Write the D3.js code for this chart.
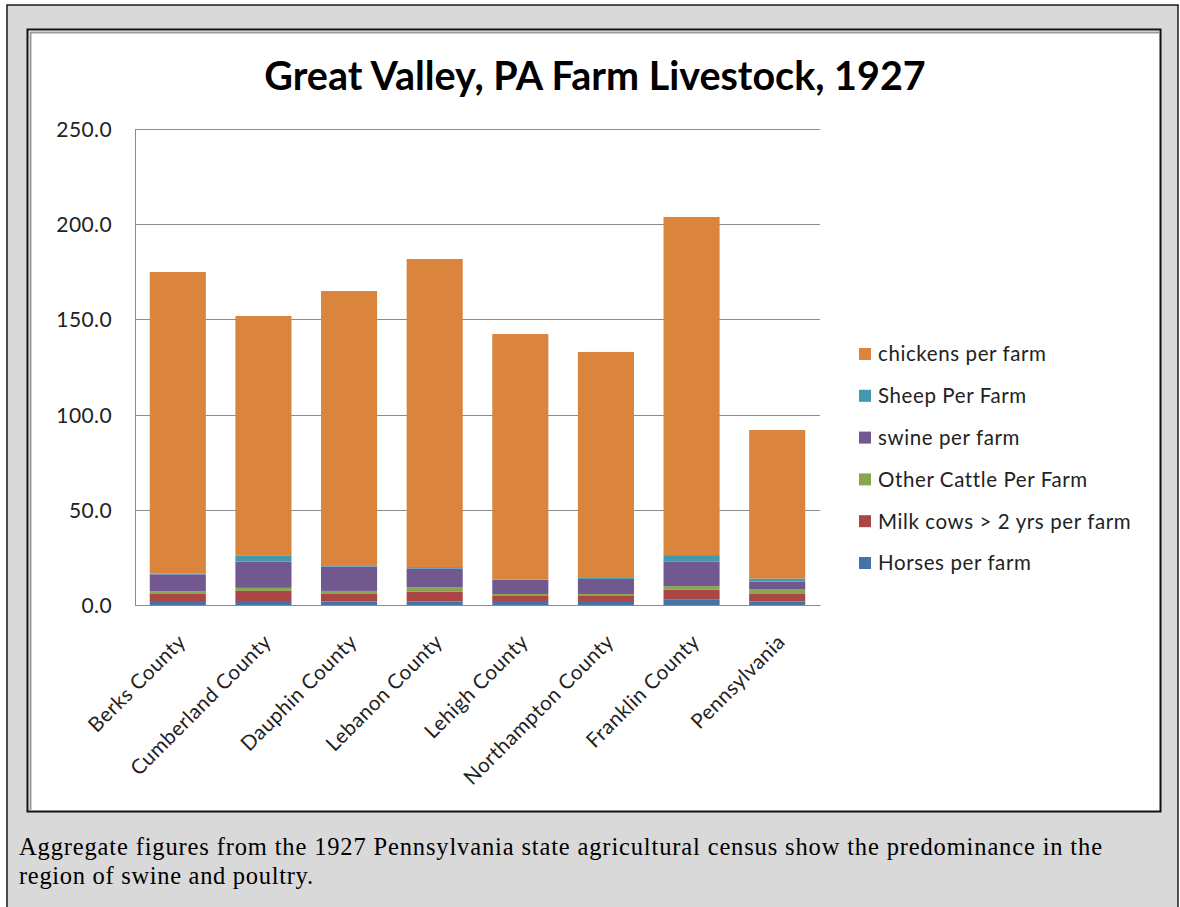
<!DOCTYPE html>
<html>
<head>
<meta charset="utf-8">
<script src="https://cdn.jsdelivr.net/npm/d3@7"></script>
<style>
  html, body { margin: 0; padding: 0; background: #ffffff; }
  svg { display: block; }
</style>
</head>
<body>
<svg id="chart" width="1180" height="907"></svg>
<script>
const categories = ["Berks County", "Cumberland County", "Dauphin County", "Lebanon County",
  "Lehigh County", "Northampton County", "Franklin County", "Pennsylvania"];
const horses      = [1.6, 2.1, 1.8, 1.8, 2.1, 1.6, 3.0, 1.8];
const milkCows    = [4.2, 5.3, 4.0, 5.1, 3.0, 3.5, 5.1, 4.0];
const otherCattle = [1.4, 1.6, 1.6, 2.3, 0.7, 0.7, 1.8, 2.3];
const swine       = [8.9, 13.8, 12.8, 10.0, 7.4, 7.9, 12.8, 4.2];
const sheep       = [0.5, 3.3, 0.7, 0.7, 0.2, 0.9, 3.5, 1.6];
const chickens    = [158.3, 125.7, 144.0, 161.8, 128.9, 118.3, 177.6, 78.0];
const seriesNames = ["Horses per farm", "Milk cows > 2 yrs per farm", "Other Cattle Per Farm",
  "swine per farm", "Sheep Per Farm", "chickens per farm"];
const seriesColors = ["#4572A7", "#AA4643", "#89A54E", "#71588F", "#4198AF", "#DB843D"];
const yTicks = [0, 50, 100, 150, 200, 250];
const titleText = "Great Valley, PA Farm Livestock, 1927";
const captionLines = [
  "Aggregate figures from the 1927 Pennsylvania state agricultural census show the predominance in the",
  "region of swine and poultry."
];

const seriesValues = [horses, milkCows, otherCattle, swine, sheep, chickens];
const keys = seriesNames;
const rows = categories.map((c, i) => {
  const r = { category: c };
  keys.forEach((k, j) => r[k] = seriesValues[j][i]);
  return r;
});

const svg = d3.select("#chart");
const font = "Lato, 'Open Sans', sans-serif";

// outer grey panel
svg.append("rect").attr("x", 7).attr("y", 5).attr("width", 1171).attr("height", 910)
  .attr("fill", "#d9d9d9").attr("stroke", "#1a1a1a").attr("stroke-width", 1.5);

// chart area (white with frame)
svg.append("rect").attr("x", 27.5).attr("y", 29.5).attr("width", 1133).attr("height", 782)
  .attr("fill", "#ffffff").attr("stroke", "#111").attr("stroke-width", 2);
svg.append("path").attr("d", "M30.5,811 V32.5 H1159")
  .attr("fill", "none").attr("stroke", "#9a9a9a").attr("stroke-width", 2);

const plot = { left: 135, right: 820, top: 129, bottom: 605 };

const x = d3.scaleBand().domain(categories).range([plot.left, plot.right])
  .paddingInner(0.345).paddingOuter(0.1725);
const y = d3.scaleLinear().domain([0, 250]).range([plot.bottom, plot.top]);

// gridlines
svg.append("g").selectAll("line").data(yTicks).join("line")
  .attr("x1", plot.left).attr("x2", plot.right)
  .attr("y1", d => Math.round(y(d)) + 0.5).attr("y2", d => Math.round(y(d)) + 0.5)
  .attr("stroke", "#8c8c8c").attr("stroke-width", 1);

// y axis
const yAxis = svg.append("g").attr("transform", `translate(${plot.left},0)`)
  .call(d3.axisLeft(y).tickValues(yTicks).tickFormat(d3.format(".1f")).tickSize(0).tickPadding(23));
yAxis.select(".domain").attr("stroke", "#8c8c8c");
yAxis.selectAll("text").attr("font-family", font).attr("font-size", 21).attr("fill", "#222")
  .attr("letter-spacing", "0.4px").attr("dy", "0.36em");

// stacked bars
const stack = d3.stack().keys(keys);
const stacked = stack(rows);
svg.append("g").selectAll("g").data(stacked).join("g")
  .attr("fill", (d, i) => seriesColors[i])
  .selectAll("rect").data(d => d).join("rect")
  .attr("x", d => x(d.data.category))
  .attr("width", x.bandwidth())
  .attr("y", d => y(d[1]))
  .attr("height", d => y(d[0]) - y(d[1]));

// x axis
const xAxis = svg.append("g").attr("transform", `translate(0,${plot.bottom})`)
  .call(d3.axisBottom(x).tickSize(0).tickSizeOuter(0));
xAxis.select(".domain").attr("stroke", "#8c8c8c");
xAxis.selectAll("text")
  .attr("font-family", font).attr("font-size", 20.5).attr("fill", "#222")
  .attr("letter-spacing", "0.5px")
  .attr("text-anchor", "end")
  .attr("transform", "translate(-1,28) rotate(-45)")
  .attr("dy", "0.7em").attr("y", 0).attr("x", 0);

// title
svg.append("text").attr("x", 595).attr("y", 90).attr("text-anchor", "middle")
  .attr("font-family", font).attr("font-weight", "bold").attr("font-size", 39.5)
  .attr("fill", "#000").text(titleText);

// legend (reversed order, chickens at top)
const legendOrder = seriesNames.map((n, i) => i).reverse();
const legend = svg.append("g").selectAll("g").data(legendOrder).join("g")
  .attr("transform", (d, i) => `translate(859,${354 + i * 41.8})`);
legend.append("rect").attr("x", 0).attr("y", -6).attr("width", 12).attr("height", 12)
  .attr("fill", d => seriesColors[d]);
legend.append("text").attr("x", 19).attr("y", 0).attr("dy", "0.36em")
  .attr("font-family", font).attr("font-size", 20.5).attr("letter-spacing", "0.6px")
  .attr("fill", "#222")
  .text(d => seriesNames[d]);

// caption
const capLen = [1083, 294];
svg.append("g").selectAll("text").data(captionLines).join("text")
  .attr("x", 19).attr("y", (d, i) => 855 + i * 29)
  .attr("font-family", "'Liberation Serif', 'Times New Roman', serif").attr("font-size", 24.5)
  .attr("textLength", (d, i) => capLen[i]).attr("lengthAdjust", "spacing")
  .attr("fill", "#000").text(d => d);
</script>
</body>
</html>
